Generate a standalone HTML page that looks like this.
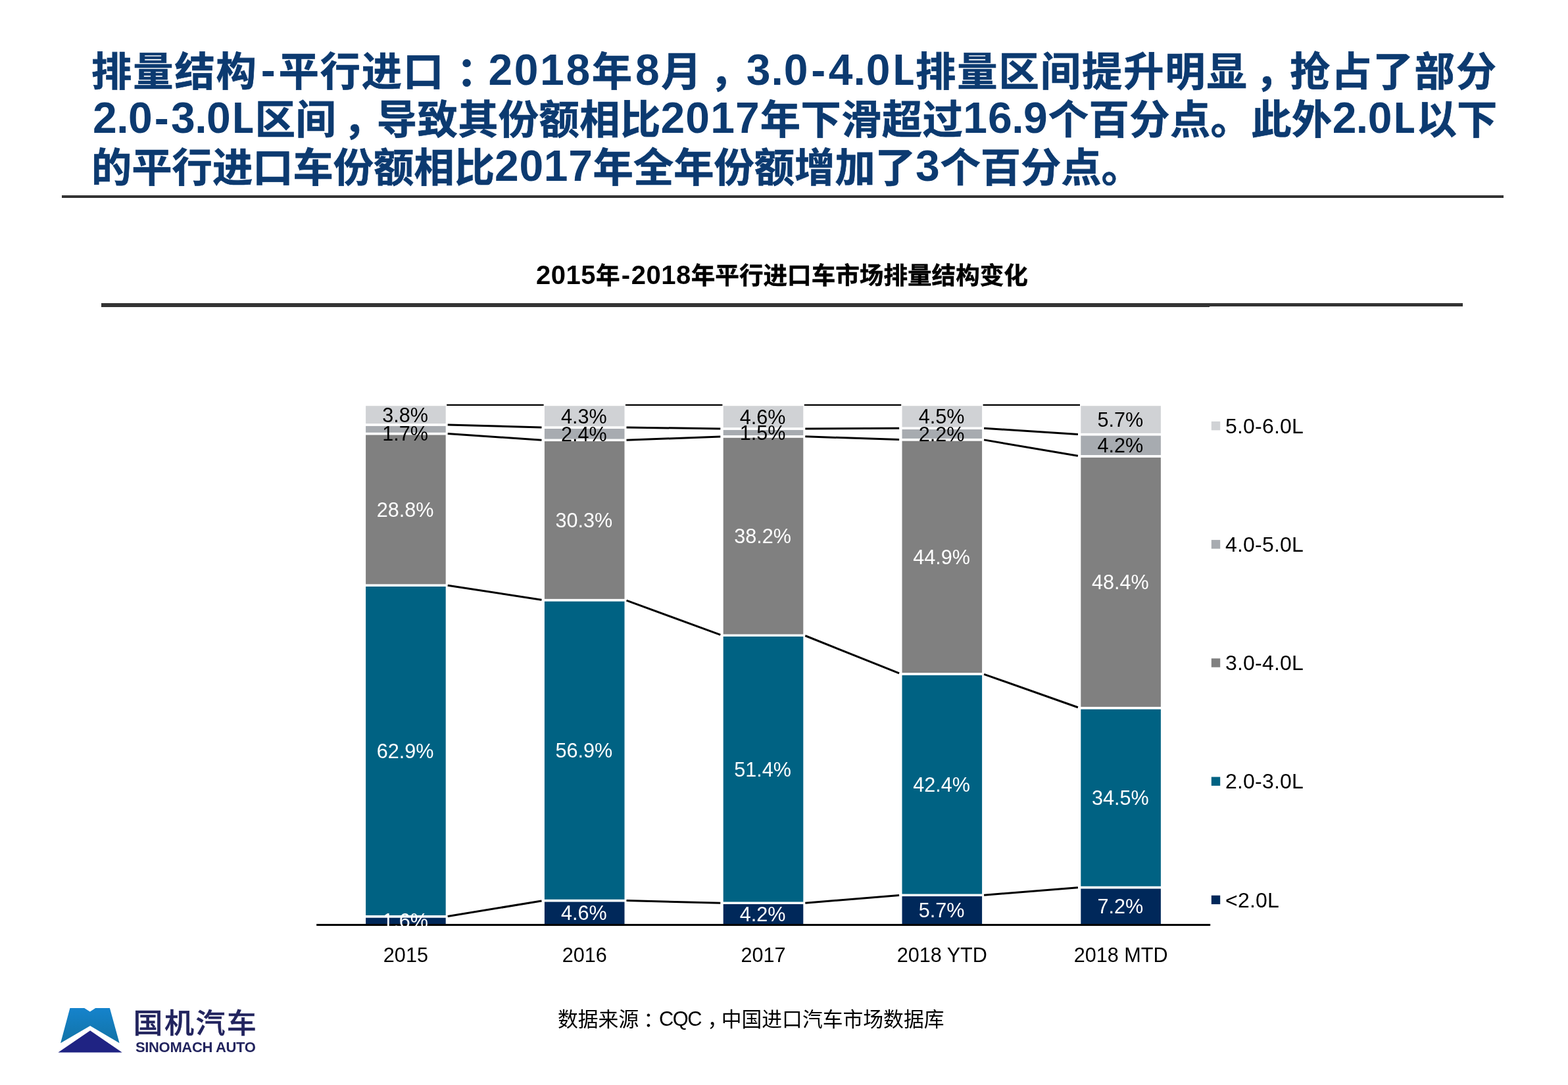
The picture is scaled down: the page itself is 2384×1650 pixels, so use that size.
<!DOCTYPE html>
<html lang="zh-CN">
<head>
<meta charset="utf-8">
<title>排量结构-平行进口</title>
<style>
html,body{margin:0;padding:0;background:#fff;}
body{width:2384px;height:1650px;position:relative;overflow:hidden;font-family:"Liberation Sans","Noto Sans CJK SC",sans-serif;}
.title{margin:0;padding:0;font-size:61.3px;}
.t{display:block;position:absolute;left:139px;white-space:nowrap;font-weight:bold;font-size:61.3px;line-height:73px;color:#0c3a70;margin:0;letter-spacing:var(--ls);}
.t{-webkit-text-stroke:0.7px #0c3a70;paint-order:stroke fill;}
.t .n{-webkit-text-stroke:0;font-size:66px;letter-spacing:calc(var(--ls) + 0.7px);position:relative;top:-1.5px;}
.t i{font-style:normal;margin:0 2px;}
.t b{display:inline-block;letter-spacing:0;clip-path:inset(-20px 8.9px -20px 0);margin-left:1px;margin-right:-5.4px;}
.t u{text-decoration:none;margin:0 -1.6px;}
.t .pc,.t .pm{position:relative;}
.t .pc{left:18px;}
.t .pm{left:11px;}
.t1{top:72.2px;--ls:1.91px;}
.t2{top:145.2px;--ls:0.39px;left:141px;}
.t3{top:217.5px;--ls:0px;}
.t1 .n{margin-left:3px;top:-2.7px;}
.t2 .n{top:-2.7px;}
.rule1{position:absolute;left:94px;top:297px;width:2192px;height:4px;background:#333;}
.ct{position:absolute;left:815px;top:394px;font-weight:bold;font-size:36.6px;line-height:48px;color:#000;white-space:nowrap;margin:0;}
.ct{-webkit-text-stroke:0.5px #000;paint-order:stroke fill;}
.ct .n{-webkit-text-stroke:0;font-size:40px;letter-spacing:0.5px;}
.ct i{font-style:normal;margin:0 1.2px 0 2.2px;}
.rule2{position:absolute;left:153.5px;top:460.8px;width:2070.5px;height:5px;background:#333;}
.rule2b{position:absolute;left:153.5px;top:460.8px;width:1685px;height:6.2px;background:#333;}
svg.chart{position:absolute;left:0;top:0;}
svg.chart text{font-family:"Liberation Sans","Noto Sans CJK SC",sans-serif;font-size:30.6px;}
svg.chart text.lg{font-size:32px;letter-spacing:0.2px;}
.src{position:absolute;left:848px;top:1528.8px;font-size:30.8px;line-height:44px;color:#000;white-space:nowrap;margin:0;}
.src .n{letter-spacing:-1.5px;position:relative;top:-1.3px;}
.src .pc{position:relative;left:7px;}
.src .pm{position:relative;left:9.5px;}
.logo{position:absolute;left:0;top:0;}
.lcn{position:absolute;left:202.6px;top:1524px;font-size:45px;line-height:66px;font-weight:500;color:#22245e;white-space:nowrap;letter-spacing:2.4px;transform:scaleY(0.935);transform-origin:0 30.5px;-webkit-text-stroke:0.5px #22245e;}
.len{position:absolute;left:206px;top:1579.5px;font-size:22px;line-height:26px;font-weight:bold;color:#22245e;white-space:nowrap;letter-spacing:-0.35px;}
</style>
</head>
<body>
<h1 class="title"><span class="t t1">排量结构<span class="n"><i>-</i></span>平行进口<span class="pc">：</span><span class="n">2018</span>年<span class="n">8</span>月<span class="pm">，</span><span class="n">3<u>.</u>0<i>-</i>4<u>.</u>0<b>L</b></span>排量区间提升明显<span class="pm">，</span>抢占了部分</span>
<span class="t t2"><span class="n">2<u>.</u>0<i>-</i>3<u>.</u>0<b>L</b></span>区间<span class="pm">，</span>导致其份额相比<span class="n">2017</span>年下滑超过<span class="n">16<u>.</u>9</span>个百分点。此外<span class="n">2<u>.</u>0<b>L</b></span>以下</span>
<span class="t t3">的平行进口车份额相比<span class="n">2017</span>年全年份额增加了<span class="n">3</span>个百分点。</span></h1>
<div class="rule1"></div>
<h2 class="ct"><span class="n">2015</span>年<span class="n"><i>-</i>2018</span>年平行进口车市场排量结构变化</h2>
<div class="rule2"></div><div class="rule2b"></div>
<svg class="chart" width="2384" height="1650" viewBox="0 0 2384 1650">
<rect x="554.35" y="1393.69" width="125.1" height="15.01" fill="#00285a" stroke="#fff" stroke-width="3.5"/>
<rect x="554.35" y="890.11" width="125.1" height="503.58" fill="#006283" stroke="#fff" stroke-width="3.5"/>
<rect x="554.35" y="659.53" width="125.1" height="230.57" fill="#808080" stroke="#fff" stroke-width="3.5"/>
<rect x="554.35" y="645.92" width="125.1" height="13.61" fill="#a7abb0" stroke="#fff" stroke-width="3.5"/>
<rect x="554.35" y="615.5" width="125.1" height="30.42" fill="#d0d2d5" stroke="#fff" stroke-width="3.5"/>
<rect x="826.15" y="1369.56" width="125.1" height="39.14" fill="#00285a" stroke="#fff" stroke-width="3.5"/>
<rect x="826.15" y="912.63" width="125.1" height="456.93" fill="#006283" stroke="#fff" stroke-width="3.5"/>
<rect x="826.15" y="669.3" width="125.1" height="243.32" fill="#808080" stroke="#fff" stroke-width="3.5"/>
<rect x="826.15" y="650.03" width="125.1" height="19.27" fill="#a7abb0" stroke="#fff" stroke-width="3.5"/>
<rect x="826.15" y="615.5" width="125.1" height="34.53" fill="#d0d2d5" stroke="#fff" stroke-width="3.5"/>
<rect x="1097.95" y="1373.24" width="125.1" height="35.46" fill="#00285a" stroke="#fff" stroke-width="3.5"/>
<rect x="1097.95" y="966.26" width="125.1" height="406.98" fill="#006283" stroke="#fff" stroke-width="3.5"/>
<rect x="1097.95" y="663.8" width="125.1" height="302.46" fill="#808080" stroke="#fff" stroke-width="3.5"/>
<rect x="1097.95" y="651.92" width="125.1" height="11.88" fill="#a7abb0" stroke="#fff" stroke-width="3.5"/>
<rect x="1097.95" y="615.5" width="125.1" height="36.42" fill="#d0d2d5" stroke="#fff" stroke-width="3.5"/>
<rect x="1369.75" y="1361.28" width="125.1" height="47.42" fill="#00285a" stroke="#fff" stroke-width="3.5"/>
<rect x="1369.75" y="1024.88" width="125.1" height="336.39" fill="#006283" stroke="#fff" stroke-width="3.5"/>
<rect x="1369.75" y="668.66" width="125.1" height="356.23" fill="#808080" stroke="#fff" stroke-width="3.5"/>
<rect x="1369.75" y="651.2" width="125.1" height="17.45" fill="#a7abb0" stroke="#fff" stroke-width="3.5"/>
<rect x="1369.75" y="615.5" width="125.1" height="35.7" fill="#d0d2d5" stroke="#fff" stroke-width="3.5"/>
<rect x="1641.55" y="1349.55" width="125.1" height="59.15" fill="#00285a" stroke="#fff" stroke-width="3.5"/>
<rect x="1641.55" y="1076.65" width="125.1" height="272.89" fill="#006283" stroke="#fff" stroke-width="3.5"/>
<rect x="1641.55" y="693.81" width="125.1" height="382.84" fill="#808080" stroke="#fff" stroke-width="3.5"/>
<rect x="1641.55" y="660.59" width="125.1" height="33.22" fill="#a7abb0" stroke="#fff" stroke-width="3.5"/>
<rect x="1641.55" y="615.5" width="125.1" height="45.09" fill="#d0d2d5" stroke="#fff" stroke-width="3.5"/>
<line x1="680.7" y1="1393.48" x2="823.5" y2="1370" stroke="#000" stroke-width="3"/>
<line x1="680.7" y1="890.3" x2="823.5" y2="912.22" stroke="#000" stroke-width="3"/>
<line x1="680.7" y1="659.62" x2="823.5" y2="669.13" stroke="#000" stroke-width="3"/>
<line x1="680.7" y1="645.96" x2="823.5" y2="649.96" stroke="#000" stroke-width="3"/>
<line x1="679.2" y1="615.9" x2="826.6" y2="615.9" stroke="#000" stroke-width="2.2"/>
<line x1="952.5" y1="1369.59" x2="1095.3" y2="1373.18" stroke="#000" stroke-width="3"/>
<line x1="952.5" y1="913.08" x2="1095.3" y2="965.29" stroke="#000" stroke-width="3"/>
<line x1="952.5" y1="669.26" x2="1095.3" y2="663.9" stroke="#000" stroke-width="3"/>
<line x1="952.5" y1="650.05" x2="1095.3" y2="651.89" stroke="#000" stroke-width="3"/>
<line x1="951" y1="615.9" x2="1098.4" y2="615.9" stroke="#000" stroke-width="2.2"/>
<line x1="1224.3" y1="1373.14" x2="1367.1" y2="1361.49" stroke="#000" stroke-width="3"/>
<line x1="1224.3" y1="966.76" x2="1367.1" y2="1023.83" stroke="#000" stroke-width="3"/>
<line x1="1224.3" y1="663.84" x2="1367.1" y2="668.57" stroke="#000" stroke-width="3"/>
<line x1="1224.3" y1="651.92" x2="1367.1" y2="651.22" stroke="#000" stroke-width="3"/>
<line x1="1222.8" y1="615.9" x2="1370.2" y2="615.9" stroke="#000" stroke-width="2.2"/>
<line x1="1496.1" y1="1361.18" x2="1638.9" y2="1349.76" stroke="#000" stroke-width="3"/>
<line x1="1496.1" y1="1025.33" x2="1638.9" y2="1075.72" stroke="#000" stroke-width="3"/>
<line x1="1496.1" y1="668.87" x2="1638.9" y2="693.35" stroke="#000" stroke-width="3"/>
<line x1="1496.1" y1="651.28" x2="1638.9" y2="660.42" stroke="#000" stroke-width="3"/>
<line x1="1494.6" y1="615.9" x2="1642" y2="615.9" stroke="#000" stroke-width="2.2"/>
<rect x="481.2" y="1405" width="1359" height="3" fill="#000"/>
<text x="616.1" y="1411.05" fill="#fff" text-anchor="middle">1.6%</text>
<text x="616.1" y="1152.85" fill="#fff" text-anchor="middle">62.9%</text>
<text x="616.1" y="785.77" fill="#fff" text-anchor="middle">28.8%</text>
<text x="616.1" y="669.98" fill="#000" text-anchor="middle">1.7%</text>
<text x="616.1" y="641.66" fill="#000" text-anchor="middle">3.8%</text>
<text x="887.9" y="1398.98" fill="#fff" text-anchor="middle">4.6%</text>
<text x="887.9" y="1152.04" fill="#fff" text-anchor="middle">56.9%</text>
<text x="887.9" y="801.92" fill="#fff" text-anchor="middle">30.3%</text>
<text x="887.9" y="670.62" fill="#000" text-anchor="middle">2.4%</text>
<text x="887.9" y="643.72" fill="#000" text-anchor="middle">4.3%</text>
<text x="1159.7" y="1400.82" fill="#fff" text-anchor="middle">4.2%</text>
<text x="1159.7" y="1180.7" fill="#fff" text-anchor="middle">51.4%</text>
<text x="1159.7" y="825.98" fill="#fff" text-anchor="middle">38.2%</text>
<text x="1159.7" y="668.81" fill="#000" text-anchor="middle">1.5%</text>
<text x="1159.7" y="644.66" fill="#000" text-anchor="middle">4.6%</text>
<text x="1431.5" y="1394.84" fill="#fff" text-anchor="middle">5.7%</text>
<text x="1431.5" y="1204.03" fill="#fff" text-anchor="middle">42.4%</text>
<text x="1431.5" y="857.72" fill="#fff" text-anchor="middle">44.9%</text>
<text x="1431.5" y="670.88" fill="#000" text-anchor="middle">2.2%</text>
<text x="1431.5" y="644.3" fill="#000" text-anchor="middle">4.5%</text>
<text x="1703.3" y="1388.97" fill="#fff" text-anchor="middle">7.2%</text>
<text x="1703.3" y="1224.05" fill="#fff" text-anchor="middle">34.5%</text>
<text x="1703.3" y="896.18" fill="#fff" text-anchor="middle">48.4%</text>
<text x="1703.3" y="688.15" fill="#000" text-anchor="middle">4.2%</text>
<text x="1703.3" y="648.99" fill="#000" text-anchor="middle">5.7%</text>
<text x="616.9" y="1462.6" fill="#000" text-anchor="middle">2015</text>
<text x="888.7" y="1462.6" fill="#000" text-anchor="middle">2016</text>
<text x="1160.5" y="1462.6" fill="#000" text-anchor="middle">2017</text>
<text x="1432.3" y="1462.6" fill="#000" text-anchor="middle">2018 YTD</text>
<text x="1704.1" y="1462.6" fill="#000" text-anchor="middle">2018 MTD</text>
<rect x="1841.8" y="640.9" width="13.4" height="13.4" fill="#d0d2d5"/>
<text x="1863" y="658.8" fill="#000" class="lg">5.0-6.0L</text>
<rect x="1841.8" y="821.1" width="13.4" height="13.4" fill="#a7abb0"/>
<text x="1863" y="839" fill="#000" class="lg">4.0-5.0L</text>
<rect x="1841.8" y="1001.3" width="13.4" height="13.4" fill="#808080"/>
<text x="1863" y="1019.2" fill="#000" class="lg">3.0-4.0L</text>
<rect x="1841.8" y="1181.5" width="13.4" height="13.4" fill="#006283"/>
<text x="1863" y="1199.4" fill="#000" class="lg">2.0-3.0L</text>
<rect x="1841.8" y="1361.7" width="13.4" height="13.4" fill="#00285a"/>
<text x="1863" y="1379.6" fill="#000" class="lg">&lt;2.0L</text>
</svg>
<p class="src">数据来源<span class="pc">：</span><span class="n">CQC</span><span class="pm">，</span>中国进口汽车市场数据库</p>
<svg class="logo" width="2384" height="1650" viewBox="0 0 2384 1650" style="pointer-events:none">
<defs><linearGradient id="lg1" x1="0" y1="0" x2="0" y2="1"><stop offset="0" stop-color="#1583cc"/><stop offset="1" stop-color="#1273a6"/></linearGradient></defs>
<polygon points="106.4,1533.1 128.2,1533.1 136.8,1538.5 145.2,1533.1 166.9,1533.1 181.6,1586.2 137.1,1560.1 92.1,1586.2" fill="url(#lg1)"/>
<polygon points="137.1,1567.2 185.7,1600.4 88.4,1600.4" fill="#1f2383"/>
</svg>
<div class="lcn">国机汽车</div>
<div class="len">SINOMACH AUTO</div>
</body>
</html>
